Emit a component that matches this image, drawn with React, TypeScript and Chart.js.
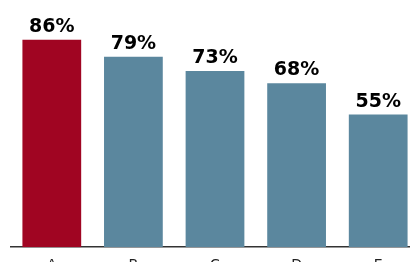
import React, { useEffect, useRef } from "react";
import { Chart, registerables } from "chart.js";

Chart.register(...registerables);

const categories = ["A", "B", "C", "D", "E"];
const values = [86, 79, 73, 68, 55];
const highlightIndex = 0;
const highlightColor = "#A00522";
const baseColor = "#5B879E";

const valueLabelPlugin = {
  id: "valueLabels",
  afterDatasetsDraw(chart: any) {
    const ctx = chart.ctx;
    const meta = chart.getDatasetMeta(0);
    ctx.save();
    ctx.font = "bold 19px 'DejaVu Sans'";
    ctx.fillStyle = "#000000";
    ctx.textAlign = "center";
    ctx.textBaseline = "alphabetic";
    meta.data.forEach((bar: any, i: number) => {
      ctx.fillText(values[i] + "%", bar.x, bar.y - 8);
    });
    ctx.restore();
  },
};

export default function App() {
  const ref = useRef<HTMLCanvasElement>(null);
  useEffect(() => {
    if (!ref.current) return;
    const chart = new Chart(ref.current, {
      type: "bar",
      data: {
        labels: categories,
        datasets: [
          {
            data: values,
            backgroundColor: values.map((_, i) => (i === highlightIndex ? highlightColor : baseColor)),
            borderWidth: 0,
          },
        ],
      },
      options: {
        animation: false,
        responsive: false,
        devicePixelRatio: 1,
        layout: { padding: { top: 6, left: 11, right: 0, bottom: 0 } },
        plugins: { legend: { display: false }, tooltip: { enabled: false } },
        scales: {
          y: { display: false, min: 0, max: 100 },
          x: {
            grid: { display: false },
            border: { display: true, color: "#333333", width: 1.5 },
            ticks: { color: "#222222", font: { family: "'DejaVu Sans'", size: 14 }, padding: 2 },
          },
        },
      },
      plugins: [valueLabelPlugin],
    });
    return () => chart.destroy();
  }, []);
  return (
    <div style={{ position: "absolute", left: 0, top: 0 }}>
      <canvas ref={ref} width={419} height={276} style={{ display: "block" }} />
    </div>
  );
}
